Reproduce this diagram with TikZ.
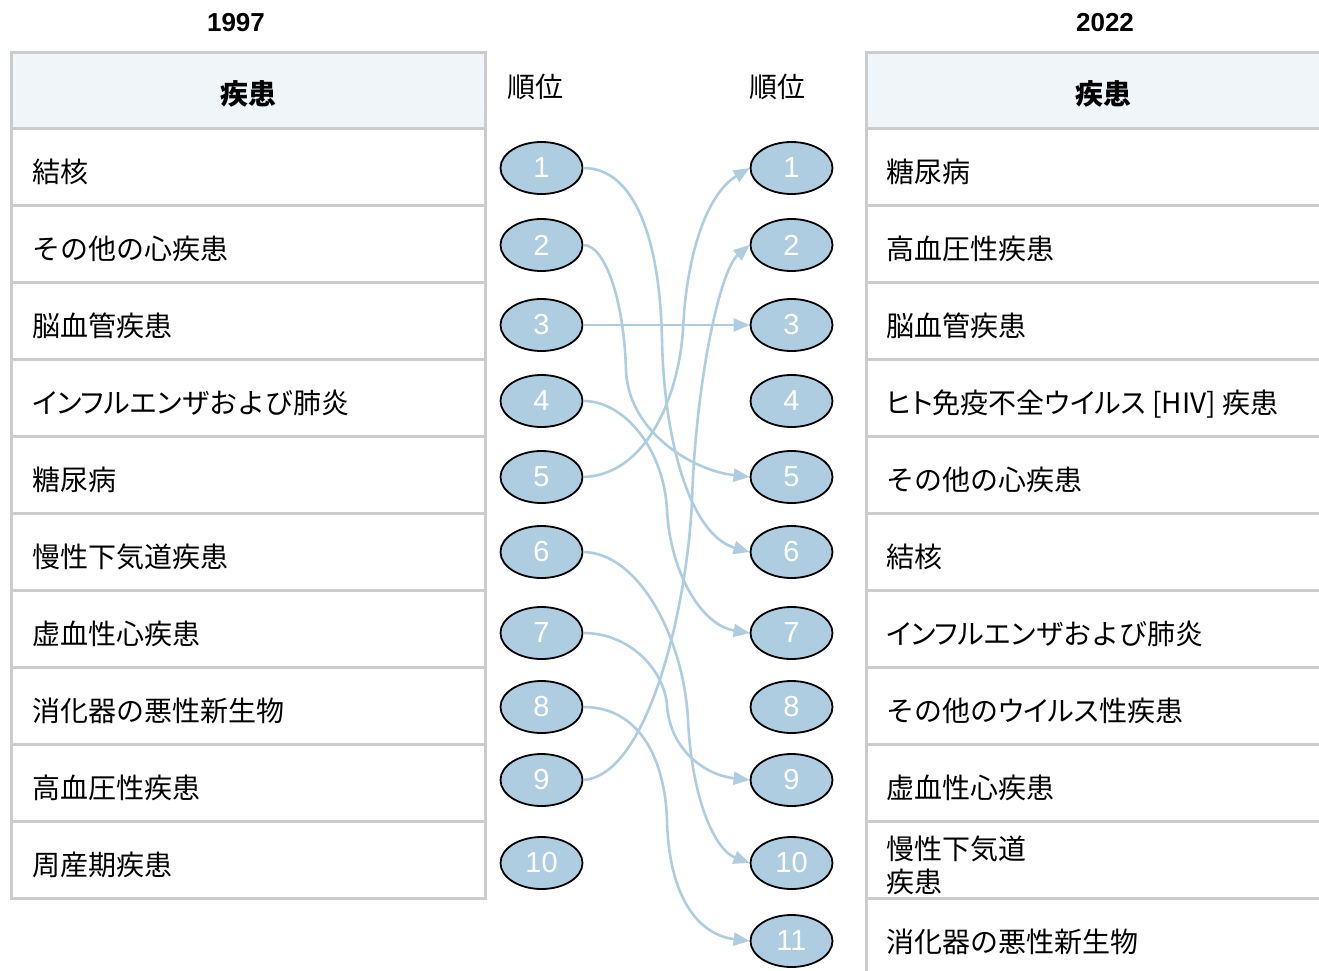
\documentclass[tikz,border=0pt]{standalone}
\usepackage{fontspec}
\setmainfont{Liberation Sans}
\newfontfamily\jp{Noto Sans CJK JP}
\newfontfamily\jpk[RawFeature=+palt]{Noto Sans CJK JP}
\newcommand\kana[1]{{\jpk #1}}
\usetikzlibrary{arrows.meta,shapes.geometric}
\definecolor{gridc}{HTML}{CCCCCC}
\definecolor{hdrc}{HTML}{F0F5FA}
\definecolor{bluec}{RGB}{175,205,225}
\tikzset{
  gridline/.style={draw=gridc, line width=3pt},
  rowtext/.style={anchor=base west, inner sep=0pt, font=\jp\fontsize{28}{33}\selectfont},
  hdrtext/.style={anchor=base, inner sep=0pt, font=\jp\bfseries\fontsize{28}{33}\selectfont},
  yeartext/.style={anchor=base, inner sep=0pt, font=\bfseries\fontsize{26}{30}\selectfont},
  ranktext/.style={anchor=base, inner sep=0pt, font=\jp\fontsize{28}{33}\selectfont},
  numnode/.style={ellipse, draw=black, line width=1.8pt, fill=bluec, text=white,
    minimum width=82pt, minimum height=52pt, inner sep=0pt,
    font=\fontsize{29}{33}\selectfont},
  edgeline/.style={draw=bluec, line width=2.6pt, -{Triangle[length=16pt,width=13pt]}}
}
\begin{document}
\begin{tikzpicture}[x=1pt,y=-1pt]
\useasboundingbox (0,0) rectangle (1319,970);
\clip (0,0) rectangle (1319,970);
% tables
\fill[hdrc] (11,52) rectangle (485,128);
\fill[hdrc] (866,52) rectangle (1340,128);
\foreach \yy in {128,205,282,359,436,513,590,667,744,821}{
  \draw[gridline] (11,\yy) -- (485,\yy);
}
\foreach \yy in {128,205,282,359,436,513,590,667,744,821,898}{
  \draw[gridline] (866,\yy) -- (1340,\yy);
}
\draw[gridline] (11,52) rectangle (485,898);
\draw[gridline] (1340,52) -- (866,52) -- (866,980);
% titles
\node[yeartext] (y1) at (236,31) {1997};
\node[yeartext] (y2) at (1105,31) {2022};
\node[hdrtext] (h1) at (248,104) {疾患};
\node[hdrtext] (h2) at (1103,104) {疾患};
\node[ranktext] (r1) at (535,97) {順位};
\node[ranktext] (r2) at (777,97) {順位};
% left rows
\node[rowtext] (a1) at (32,182) {結核};
\node[rowtext] (a2) at (32,259) {その他の心疾患};
\node[rowtext] (a3) at (32,336) {脳血管疾患};
\node[rowtext] (a4) at (32,413) {\kana{インフルエンザ}および肺炎};
\node[rowtext] (a5) at (32,490) {糖尿病};
\node[rowtext] (a6) at (32,567) {慢性下気道疾患};
\node[rowtext] (a7) at (32,644) {虚血性心疾患};
\node[rowtext] (a8) at (32,721) {消化器の悪性新生物};
\node[rowtext] (a9) at (32,798) {高血圧性疾患};
\node[rowtext] (a10) at (32,875) {周産期疾患};
% right rows
\node[rowtext] (b1) at (886,182) {糖尿病};
\node[rowtext] (b2) at (886,259) {高血圧性疾患};
\node[rowtext] (b3) at (886,336) {脳血管疾患};
\node[rowtext] (b4) at (886,413) {\kana{ヒト}免疫不全\kana{ウイルス} [HIV] 疾患};
\node[rowtext] (b5) at (886,490) {その他の心疾患};
\node[rowtext] (b6) at (886,567) {結核};
\node[rowtext] (b7) at (886,644) {\kana{インフルエンザ}および肺炎};
\node[rowtext] (b8) at (886,721) {その他の\kana{ウイルス}性疾患};
\node[rowtext] (b9) at (886,798) {虚血性心疾患};
\node[rowtext] (b10) at (886,859) {慢性下気道};
\node[rowtext] (b10b) at (886,892) {疾患};
\node[rowtext] (b11) at (886,952) {消化器の悪性新生物};
% rank ellipses
\foreach \i/\yy in {1/168,2/245,3/325,4/401,5/477,6/552,7/633,8/707,9/780,10/863}{
  \node[numnode] (L\i) at (541.5,\yy) {\i};
}
\foreach \i/\yy in {1/168,2/245,3/325,4/401,5/477,6/552,7/633,8/707,9/780,10/863,11/941}{
  \node[numnode] (R\i) at (791.5,\yy) {\i};
}
% edges
\draw[edgeline] (L1.east) .. controls (635,168) and (660,240) .. (662,340)
  .. controls (664,440) and (690,535) .. (R6.west);
\draw[edgeline] (L2.east) .. controls (605,245) and (624,300) .. (626,370)
  .. controls (628,430) and (690,470) .. (R5.west);
\draw[edgeline] (L3.east) -- (R3.west);
\draw[edgeline] (L4.east) .. controls (625,401) and (664,450) .. (667,510)
  .. controls (670,570) and (700,625) .. (R7.west);
\draw[edgeline] (L5.east) .. controls (645,475) and (678,400) .. (683,330)
  .. controls (686,260) and (705,195) .. (R1.west);
\draw[edgeline] (L6.east) .. controls (640,553) and (684,640) .. (688,720)
  .. controls (692,800) and (715,850) .. (R10.west);
\draw[edgeline] (L7.east) .. controls (630,633) and (664,670) .. (667,705)
  .. controls (670,750) and (705,775) .. (R9.west);
\draw[edgeline] (L8.east) .. controls (640,707) and (665,760) .. (667,820)
  .. controls (669,900) and (700,935) .. (R11.west);
\draw[edgeline] (L9.east) .. controls (650,775) and (688,600) .. (692,500)
  .. controls (696,380) and (720,270) .. (R2.west);
\end{tikzpicture}
\end{document}
